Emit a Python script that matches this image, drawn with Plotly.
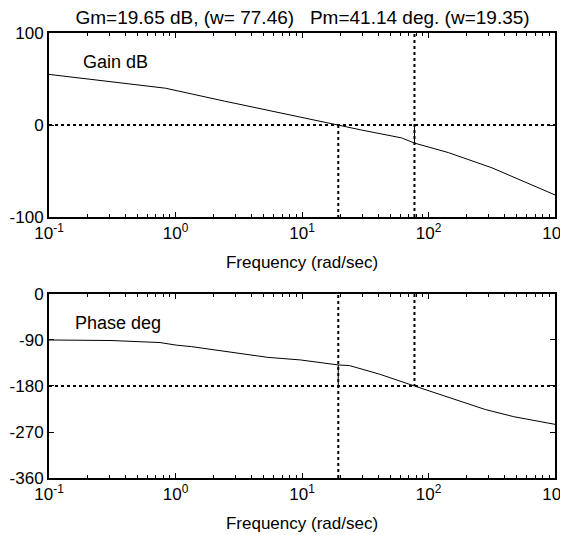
import plotly.graph_objects as go
from plotly.subplots import make_subplots

# ---- data ----
gain_w = [0.1, 0.832, 2.43, 4.06, 19.35, 29.4, 61.2, 77.46, 143.6, 317, 1000]
gain_db = [55, 40, 26, 19.5, 0, -5.4, -14, -19.65, -30, -46.5, -76]

phase_w = [0.1, 0.309, 0.754, 1.01, 1.34, 5.36, 9.71, 13.3, 19.35, 23.7, 41.2, 77.46, 165, 281, 471, 1000]
phase_deg = [-90, -91, -95, -100, -103, -124, -129, -134, -138.86, -140, -157, -180, -207, -226, -240, -255]

gm_db = 19.65
gm_w = 77.46
pm_deg = 41.14
pm_w = 19.35

x_range = [0.1, 1000]
gain_range = [-100, 100]
phase_range = [-360, 0]
x_tickvals = [0.1, 1, 10, 100, 1000]
x_ticktext = ["10<sup>-1</sup>", "10<sup>0</sup>", "10<sup>1</sup>", "10<sup>2</sup>", "10<sup>3</sup>"]
x_minor = [m * 10 ** e for e in (-1, 0, 1, 2) for m in range(2, 10)]
gain_ticks = [-100, 0, 100]
gain_ticktext = ["-100", "0", "100"]
phase_ticks = [-360, -270, -180, -90, 0]
phase_ticktext = ["-360", "-270", "-180", "-90", "0"]

title = "Gm=19.65 dB, (w= 77.46)\u00a0\u00a0\u00a0Pm=41.14 deg. (w=19.35)"

FONT = "Liberation Sans, Arial, sans-serif"

fig = make_subplots(rows=2, cols=1)

dot = dict(color="black", width=2, dash="dot")
solid = dict(color="black", width=1)

# gain plot
fig.add_trace(go.Scatter(x=gain_w, y=gain_db, mode="lines", line=solid), row=1, col=1)
fig.add_trace(go.Scatter(x=x_range, y=[0, 0], mode="lines", line=dot), row=1, col=1)
fig.add_trace(go.Scatter(x=[pm_w, pm_w], y=[0, gain_range[0]], mode="lines", line=dot), row=1, col=1)
fig.add_trace(go.Scatter(x=[gm_w, gm_w], y=gain_range, mode="lines", line=dot), row=1, col=1)
fig.add_trace(go.Scatter(x=[gm_w, gm_w], y=[0, -gm_db], mode="lines", line=solid), row=1, col=1)

# phase plot
fig.add_trace(go.Scatter(x=phase_w, y=phase_deg, mode="lines", line=solid), row=2, col=1)
fig.add_trace(go.Scatter(x=x_range, y=[-180, -180], mode="lines", line=dot), row=2, col=1)
fig.add_trace(go.Scatter(x=[pm_w, pm_w], y=phase_range, mode="lines", line=dot), row=2, col=1)
fig.add_trace(go.Scatter(x=[gm_w, gm_w], y=[0, -180], mode="lines", line=dot), row=2, col=1)
fig.add_trace(go.Scatter(x=[pm_w, pm_w], y=[-180 + pm_deg, -180], mode="lines", line=solid), row=2, col=1)

xax = dict(type="log", range=[-1, 3], tickmode="array", tickvals=x_tickvals, ticktext=x_ticktext,
           ticks="inside", ticklen=5, tickcolor="black", showgrid=False, zeroline=False,
           showline=True, linecolor="black", linewidth=2, mirror="ticks", automargin=False,
           ticklabeloverflow="allow",
           minor=dict(tickmode="array", tickvals=x_minor, ticks="inside", ticklen=3,
                      tickcolor="black", showgrid=False),
           title=dict(text="Frequency (rad/sec)", standoff=14, font=dict(size=17, color="black")),
           tickfont=dict(size=17, color="black"))
fig.update_xaxes(**xax)
yax = dict(ticks="inside", ticklen=5, tickcolor="black", showgrid=False, zeroline=False,
           showline=True, linecolor="black", linewidth=2, mirror="ticks", tickmode="array",
           automargin=False, ticklabeloverflow="allow", tickfont=dict(size=17, color="black"))
fig.update_yaxes(range=gain_range, tickvals=gain_ticks, ticktext=gain_ticktext,
                 domain=[0.5865, 1.0], row=1, col=1, **yax)
fig.update_yaxes(range=phase_range, tickvals=phase_ticks, ticktext=phase_ticktext,
                 domain=[0.0, 0.4135], row=2, col=1, **yax)

fig.update_layout(
    width=560, height=527,
    margin=dict(l=41, r=13, t=25, b=57, autoexpand=False),
    paper_bgcolor="white", plot_bgcolor="white",
    showlegend=False,
    font=dict(family=FONT, size=17, color="black"),
    title=dict(text=title, x=0.526, xanchor="center", xref="container",
               y=1 - 9.5 / 527, yanchor="middle", yref="container", automargin=False,
               font=dict(size=19, color="black")),
    annotations=[
        dict(text="Gain dB", xref="paper", yref="paper", x=0.0632, y=0.9348,
             xanchor="left", yanchor="middle", showarrow=False, font=dict(size=18)),
        dict(text="Phase deg", xref="paper", yref="paper", x=0.0474, y=0.3483,
             xanchor="left", yanchor="middle", showarrow=False, font=dict(size=18)),
    ],
)

fig.write_html("out.html")
